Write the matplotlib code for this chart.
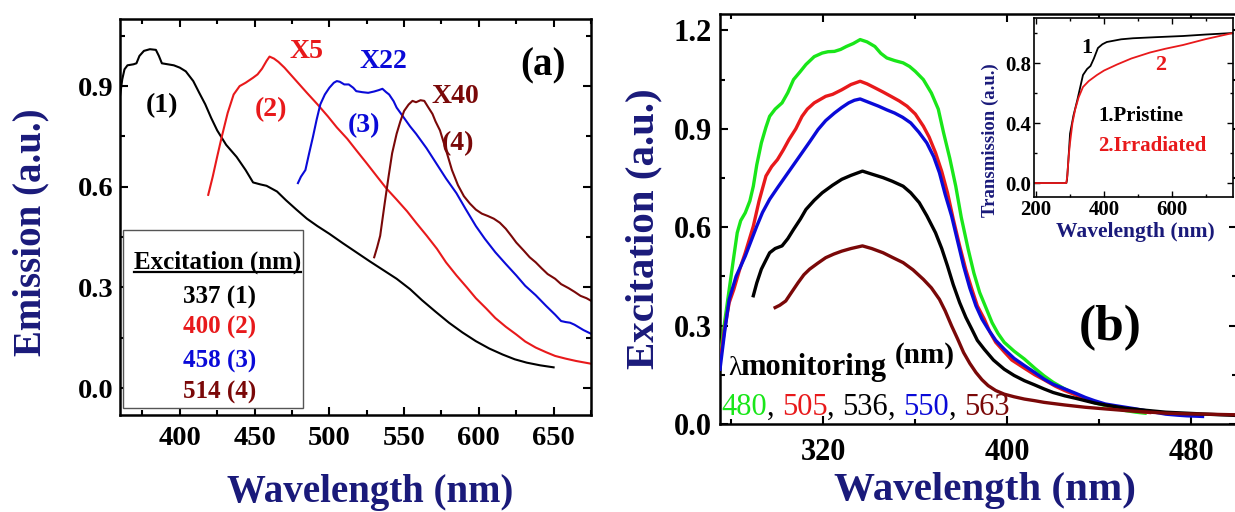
import matplotlib
matplotlib.use("Agg")
import matplotlib.pyplot as plt
import matplotlib.transforms as mtransforms
from matplotlib.ticker import MultipleLocator, FormatStrFormatter
from matplotlib.patches import Rectangle

plt.rcParams['font.family'] = ['Liberation Serif', 'DejaVu Serif']
plt.rcParams['font.weight'] = 'bold'
plt.rcParams['mathtext.default'] = 'regular'

# ---------------- data : panel (a) emission ----------------
em1 = [(360, 0.87), (361.5, 0.92), (363, 0.95), (365, 0.962), (369, 0.965), (371, 0.968),
       (373, 0.99), (376, 1.005), (380, 1.01), (384, 1.008), (386, 0.99), (388, 0.968),
       (392, 0.965), (396, 0.962), (400, 0.955), (404, 0.944), (409, 0.915), (413, 0.88),
       (417, 0.846), (421, 0.805), (425, 0.768), (431, 0.725), (438, 0.689), (444, 0.65),
       (449, 0.613), (454, 0.607), (458, 0.603), (465, 0.586), (471, 0.56), (478, 0.532),
       (485, 0.505), (492, 0.483), (500, 0.46), (509, 0.432), (518, 0.405), (527, 0.378),
       (536, 0.352), (545, 0.326), (554, 0.295), (562, 0.262), (571, 0.228), (580, 0.195),
       (589, 0.166), (598, 0.140), (607, 0.118), (616, 0.1), (624, 0.086), (632, 0.076),
       (641, 0.068), (650, 0.062)]
em2 = [(419, 0.576), (422, 0.63), (425, 0.69), (428, 0.748), (432, 0.82), (436, 0.875),
       (440, 0.9), (444, 0.91), (449, 0.925), (452, 0.935), (455, 0.952), (458, 0.975),
       (460, 0.988), (463, 0.982), (466, 0.972), (470, 0.955), (478, 0.915), (485, 0.88),
       (492, 0.846), (499, 0.81), (505, 0.777), (512, 0.743), (518, 0.709), (525, 0.67),
       (532, 0.63), (538, 0.596), (545, 0.562), (552, 0.527), (558, 0.493), (565, 0.455),
       (572, 0.415), (578, 0.375), (585, 0.336), (592, 0.30), (598, 0.268), (605, 0.237),
       (611, 0.209), (618, 0.183), (625, 0.160), (631, 0.139), (638, 0.121), (645, 0.107),
       (651, 0.096), (658, 0.088), (665, 0.081), (676, 0.072)]
em3 = [(479, 0.611), (481, 0.63), (484, 0.65), (486.5, 0.70), (489, 0.748), (491.5, 0.80),
       (494, 0.846), (497, 0.875), (500, 0.895), (503, 0.91), (505, 0.915), (507, 0.913),
       (510, 0.905), (513, 0.905), (516, 0.895), (518, 0.885), (522, 0.882), (526, 0.880),
       (530, 0.884), (533, 0.888), (535.5, 0.892), (538, 0.882), (540, 0.875), (543, 0.855),
       (545, 0.836), (550, 0.805), (554, 0.78), (558, 0.758), (565, 0.715), (571.5, 0.670),
       (578, 0.625), (585, 0.581), (591, 0.535), (598, 0.483), (604, 0.445), (611, 0.405),
       (618, 0.37), (625, 0.336), (631, 0.305), (638, 0.277), (645, 0.245), (651, 0.219),
       (655, 0.200), (658, 0.197), (661, 0.195), (664, 0.189), (670, 0.173), (676, 0.160)]
em4 = [(530, 0.39), (532, 0.42), (534, 0.454), (537, 0.55), (539.6, 0.63), (542, 0.70),
       (545, 0.758), (547.5, 0.795), (550, 0.826), (553, 0.845), (555.6, 0.856), (558, 0.852),
       (561, 0.858), (563.5, 0.856), (566, 0.838), (569, 0.817), (571, 0.795), (574, 0.768),
       (578, 0.71), (582, 0.65), (586, 0.605), (590, 0.572), (594, 0.55), (598, 0.532),
       (602, 0.52), (606, 0.513), (610, 0.505), (614, 0.493), (618, 0.475), (622, 0.452),
       (625, 0.434), (630, 0.41), (634, 0.39), (638, 0.375), (642, 0.357), (646, 0.34),
       (651, 0.326), (655, 0.31), (660, 0.298), (664, 0.287), (668, 0.275), (672, 0.268),
       (676, 0.258)]
em_labels = ["(1)", "(2)", "(3)", "(4)"]
em_gain = ["X5", "X22", "X40"]
exc_rows = ["337 (1)", "400 (2)", "458 (3)", "514 (4)"]

# ---------------- data : panel (b) excitation ----------------
ex480 = [(275, 0.20), (277, 0.31), (279, 0.41), (281, 0.51), (282.5, 0.583), (284, 0.62),
         (286, 0.644), (288, 0.68), (289.5, 0.725), (291, 0.79), (293, 0.857), (295, 0.905),
         (296.6, 0.938), (299, 0.96), (302, 0.979), (304.5, 1.01), (307, 1.05), (310, 1.075),
         (312.4, 1.096), (316, 1.12), (319.5, 1.131), (322, 1.135), (324.8, 1.136),
         (327.5, 1.142), (330, 1.151), (333, 1.16), (336, 1.172), (339, 1.165), (342.4, 1.151),
         (345, 1.13), (347.6, 1.116), (351, 1.108), (354.7, 1.101), (357.5, 1.09), (360, 1.075),
         (363.5, 1.05), (367, 1.009), (370, 0.96), (372.3, 0.888), (375, 0.81), (377.6, 0.725),
         (380, 0.63), (383, 0.533), (385.5, 0.46), (388, 0.401), (391, 0.35), (393.4, 0.309),
         (396, 0.276), (398.7, 0.249), (403, 0.222), (407.5, 0.198), (412, 0.17), (416, 0.147),
         (420, 0.127), (425, 0.107), (430, 0.09), (434, 0.076), (438, 0.065), (442.7, 0.056),
         (447, 0.048), (451.5, 0.041), (456, 0.036), (460, 0.033)]
ex505 = [(275, 0.19), (277, 0.29), (279, 0.37), (281, 0.41), (283.5, 0.47), (286, 0.522),
         (289.5, 0.603), (292, 0.68), (295, 0.756), (297.5, 0.785), (300, 0.806), (302.5, 0.835),
         (305, 0.867), (308, 0.9), (310.7, 0.938), (313, 0.96), (316, 0.979), (321, 0.999),
         (324, 1.005), (328, 1.019), (332, 1.035), (336, 1.045), (339, 1.037), (342.4, 1.025),
         (346, 1.012), (349.4, 0.999), (353, 0.985), (356.4, 0.969), (360, 0.945), (363.5, 0.908),
         (366, 0.875), (368.8, 0.827), (371.5, 0.77), (374, 0.705), (376.5, 0.625), (379.3, 0.543),
         (382, 0.47), (384.6, 0.411), (387, 0.36), (390, 0.32), (392.5, 0.28), (395, 0.249),
         (398.7, 0.22), (402, 0.195), (407.5, 0.17), (412, 0.15), (416, 0.135), (421, 0.115),
         (425, 0.102), (430, 0.088), (434, 0.077), (438, 0.068), (442.7, 0.058), (447, 0.05),
         (451.5, 0.044), (456, 0.039), (462, 0.035)]
ex550 = [(275, 0.167), (277, 0.28), (279, 0.38), (282, 0.45), (286, 0.512), (291, 0.603),
         (293.5, 0.645), (296.6, 0.685), (300, 0.72), (303.6, 0.756), (307, 0.79), (310.7, 0.827),
         (314, 0.86), (317.7, 0.898), (321, 0.925), (324.8, 0.948), (328, 0.965), (331, 0.979),
         (333.5, 0.987), (336, 0.991), (340, 0.98), (344, 0.969), (347.5, 0.958), (351, 0.948),
         (354.5, 0.935), (358, 0.918), (361.5, 0.89), (365, 0.857), (368, 0.815), (370.5, 0.766),
         (373, 0.7), (375.8, 0.634), (378.5, 0.555), (381, 0.482), (383.7, 0.415), (386.4, 0.36),
         (389, 0.32), (391.7, 0.289), (395, 0.255), (398.7, 0.228), (403, 0.2), (407.5, 0.178),
         (412, 0.157), (416, 0.137), (420, 0.121), (425, 0.107), (430, 0.093), (434, 0.081),
         (438, 0.071), (442.7, 0.061), (447, 0.056), (451.5, 0.051), (456, 0.046), (460, 0.041),
         (465, 0.035), (469, 0.030), (474, 0.027), (478, 0.025), (485, 0.023)]
ex536 = [(289.5, 0.391), (291, 0.43), (293, 0.472), (295, 0.5), (296.6, 0.522), (299, 0.535),
         (302, 0.543), (304.5, 0.565), (307, 0.593), (310, 0.625), (312.4, 0.654), (316, 0.682),
         (319.5, 0.705), (324, 0.728), (328, 0.746), (332, 0.758), (337, 0.771), (341, 0.762),
         (346, 0.751), (350, 0.74), (354.7, 0.725), (358, 0.705), (361.7, 0.675), (365, 0.635),
         (368.8, 0.583), (371.5, 0.535), (374, 0.482), (376.5, 0.425), (379.3, 0.370),
         (382, 0.325), (384.6, 0.289), (387, 0.255), (390, 0.228), (394, 0.195), (398.7, 0.167),
         (403, 0.148), (407.5, 0.132), (412, 0.119), (416, 0.107), (420, 0.096), (425, 0.086),
         (430, 0.078), (434, 0.071), (438, 0.064), (442.7, 0.058), (447, 0.053), (451.5, 0.048),
         (460, 0.042), (469, 0.036), (478, 0.033), (486.7, 0.030), (493, 0.028), (500, 0.026)]
ex563 = [(299, 0.355), (301, 0.362), (303.6, 0.375), (306, 0.4), (309, 0.431), (311.5, 0.455),
         (314, 0.472), (317.5, 0.49), (321, 0.507), (324.5, 0.518), (328, 0.527), (332, 0.535),
         (337, 0.543), (341, 0.535), (346, 0.522), (350, 0.508), (354.7, 0.492), (359, 0.47),
         (363.5, 0.441), (367, 0.415), (370.5, 0.380), (373, 0.345), (375.8, 0.299),
         (378.5, 0.258), (381, 0.218), (383.7, 0.185), (386.4, 0.157), (389, 0.135),
         (391.7, 0.117), (395, 0.102), (398.7, 0.091), (403, 0.083), (407.5, 0.076),
         (412, 0.071), (416, 0.066), (425, 0.058), (434, 0.051), (442.7, 0.046), (451.5, 0.041),
         (460, 0.037), (469, 0.033), (478, 0.031), (486.7, 0.030), (493, 0.029), (500, 0.028)]
monitor_wl = ["480", "505", "536", "550", "563"]

# ---------------- data : inset transmission ----------------
tr_pristine = [(194, 0.0), (240, 0.0), (289, 0.0), (291, 0.02), (295, 0.15), (300, 0.33),
               (310, 0.45), (321, 0.55), (330, 0.64), (338, 0.72), (350, 0.76), (360, 0.78),
               (370, 0.83), (382, 0.9), (395, 0.925), (408, 0.94), (450, 0.958), (485, 0.965),
               (550, 0.972), (632, 0.98), (700, 0.99), (779, 1.0)]
tr_irradiated = [(194, 0.0), (240, 0.0), (289, 0.0), (292, 0.05), (296, 0.18), (300, 0.27),
                 (307, 0.4), (315, 0.49), (325, 0.57), (338, 0.64), (355, 0.68), (379, 0.72),
                 (400, 0.75), (438, 0.79), (480, 0.83), (535, 0.87), (580, 0.895), (632, 0.92),
                 (700, 0.96), (779, 1.0)]

# ---------------- style ----------------
BLACK, RED, BLUE, BROWN, GREEN = "#000000", "#e8191b", "#0a0ad8", "#7a0808", "#19e619"
NAVY = "#1a1a7a"
FS_TICK_A, FS_TICK_B = 20.5, 22

W, H = 1235, 512
fig = plt.figure(figsize=(W / 100, H / 100), dpi=100)


def px_axes(x0, y0, x1, y1):
    return fig.add_axes([x0 / W, 1 - y1 / H, (x1 - x0) / W, (y1 - y0) / H])


def style_axes(ax, fs, lw=1.8):
    for s in ax.spines.values():
        s.set_linewidth(lw)
    ax.tick_params(which='both', direction='in', top=True, right=True, width=1.5)
    ax.tick_params(which='major', length=6, labelsize=fs)
    ax.tick_params(which='minor', length=3.5)


def xy(pairs):
    return [p[0] for p in pairs], [p[1] for p in pairs]


# ================= panel (a) =================
axa = px_axes(120, 19, 591, 415)
for data, col in [(em1, BLACK), (em2, RED), (em3, BLUE), (em4, BROWN)]:
    x, y = xy(data)
    axa.plot(x, y, color=col, lw=1.5)
axa.set_xlim(360, 675)
axa.set_ylim(-0.08, 1.1)
axa.xaxis.set_major_locator(MultipleLocator(50))
axa.xaxis.set_minor_locator(MultipleLocator(25))
axa.yaxis.set_major_locator(MultipleLocator(0.3))
axa.yaxis.set_minor_locator(MultipleLocator(0.15))
axa.yaxis.set_major_formatter(FormatStrFormatter('%.1f'))
style_axes(axa, FS_TICK_A)
axa.tick_params(axis='x', pad=8)
axa.tick_params(axis='y', pad=5)

for txt, (x, y), col in zip(em_labels, [(388, 0.841), (461, 0.831), (523, 0.782), (586, 0.730)],
                            [BLACK, RED, BLUE, BROWN]):
    axa.text(x, y, txt, color=col, fontsize=20, ha='center', va='center')
for txt, (x, y), col in zip(em_gain, [(485, 1.003), (536, 0.973), (584, 0.870)], [RED, BLUE, BROWN]):
    axa.text(x, y, txt, color=col, fontsize=20, ha='center', va='center')
axa.text(643, 0.959, "(a)", fontsize=28, ha='center', va='center')

# excitation table box
axa.add_patch(Rectangle((0.0064, 0.0177), 0.382, 0.449, transform=axa.transAxes,
                        facecolor='white', edgecolor='#555555', lw=1.0, zorder=3))
hdr = axa.text(0.207, 0.386, "Excitation (nm)", transform=axa.transAxes, fontsize=18,
               ha='center', va='center', zorder=4)
for txt, yy, col in zip(exc_rows, [0.298, 0.220, 0.134, 0.056], [BLACK, RED, BLUE, BROWN]):
    axa.text(0.212, yy, txt, transform=axa.transAxes, fontsize=18, color=col,
             ha='center', va='center', zorder=4)

fig.text(31 / W, 1 - 232 / H, "Emission (a.u.)", rotation=90, color=NAVY, fontsize=28,
         ha='center', va='center')
fig.text(370 / W, 1 - 502 / H, "Wavelength (nm)", color=NAVY, fontsize=28,
         ha='center', va='baseline')

# ================= panel (b) =================
axb = px_axes(720, 14, 1237, 424)
for data, col in [(ex480, GREEN), (ex505, RED), (ex550, BLUE), (ex536, BLACK), (ex563, BROWN)]:
    x, y = xy(data)
    axb.plot(x, y, color=col, lw=2.4, zorder=3)
axb.set_xlim(275, 500)
axb.set_ylim(0, 1.25)
axb.xaxis.set_major_locator(MultipleLocator(80))
axb.xaxis.set_minor_locator(MultipleLocator(40))
axb.yaxis.set_major_locator(MultipleLocator(0.3))
axb.yaxis.set_minor_locator(MultipleLocator(0.15))
axb.yaxis.set_major_formatter(FormatStrFormatter('%.1f'))
style_axes(axb, FS_TICK_B)
axb.tick_params(axis='x', pad=10)
axb.tick_params(axis='y', pad=6)

axb.text(445, 0.294, "(b)", fontsize=37, ha='center', va='center')
axb.text(278.5, 0.15, "λ", fontsize=20, fontweight='normal', ha='left', va='baseline', zorder=1)
axb.text(283.7, 0.15, "monitoring", fontsize=22, ha='left', va='baseline', zorder=4)
axb.text(351, 0.186, "(nm)", fontsize=21, ha='left', va='baseline', zorder=4)

fig.text(644 / W, 1 - 229 / H, "Excitation (a.u.)", rotation=90, color=NAVY, fontsize=29.5,
         ha='center', va='center')
fig.text(985 / W, 1 - 500 / H, "Wavelength (nm)", color=NAVY, fontsize=29.5,
         ha='center', va='baseline')

# ================= inset =================
axi = px_axes(1034, 18, 1233, 197)
x, y = xy(tr_pristine)
axi.plot(x, y, color=BLACK, lw=1.3)
x, y = xy(tr_irradiated)
axi.plot(x, y, color=RED, lw=1.3)
axi.set_xlim(194, 779)
axi.set_ylim(-0.093, 1.10)
axi.xaxis.set_major_locator(MultipleLocator(200))
axi.xaxis.set_minor_locator(MultipleLocator(100))
axi.yaxis.set_major_locator(MultipleLocator(0.4))
axi.yaxis.set_minor_locator(MultipleLocator(0.2))
axi.yaxis.set_major_formatter(FormatStrFormatter('%.1f'))
for s in axi.spines.values():
    s.set_linewidth(1.2)
axi.tick_params(which='both', direction='in', top=True, right=True, width=1.0)
axi.tick_params(which='major', length=4, labelsize=15, pad=2)
axi.tick_params(which='minor', length=2.5)
axi.text(350, 0.90, "1", fontsize=16, color=BLACK, ha='center', va='center')
axi.text(565, 0.79, "2", fontsize=16, color=RED, ha='center', va='center')
axi.text(509, 0.45, "1.Pristine", fontsize=15, color=BLACK, ha='center', va='center')
axi.text(541, 0.25, "2.Irradiated", fontsize=15, color=RED, ha='center', va='center')
fig.text(990 / W, 1 - 140 / H, "Transmission (a.u.)", rotation=90, color=NAVY, fontsize=13.5,
         ha='center', va='center')
fig.text(1135 / W, 1 - 237 / H, "Wavelength (nm)", color=NAVY, fontsize=15.5,
         ha='center', va='baseline')

# ---------- text needing measured layout ----------
fig.canvas.draw()
renderer = fig.canvas.get_renderer()

# underline for table header
bb = hdr.get_window_extent(renderer=renderer)
inv = axa.transAxes.inverted()
(ux0, uy0), (ux1, _) = inv.transform([(bb.x0, bb.y0 + 2), (bb.x1, bb.y0)])
axa.plot([ux0, ux1], [uy0, uy0], color='black', lw=1.6, transform=axa.transAxes, zorder=4)

# multicolour monitoring wavelengths
pieces = []
cols = [GREEN, RED, BLACK, BLUE, BROWN]
for i, (w, c) in enumerate(zip(monitor_wl, cols)):
    pieces.append((w, c))
    if i < len(monitor_wl) - 1:
        pieces.append((", ", BLACK))
trans = axb.transData
for s, c in pieces:
    t = axb.text(275.4, 0.027, s, color=c, fontsize=22, fontweight='normal',
                 ha='left', va='baseline', transform=trans, zorder=4)
    b = t.get_window_extent(renderer=renderer)
    trans = mtransforms.offset_copy(t.get_transform(), fig=fig, x=b.width, units='dots')

fig.savefig("out.png", dpi=100)
